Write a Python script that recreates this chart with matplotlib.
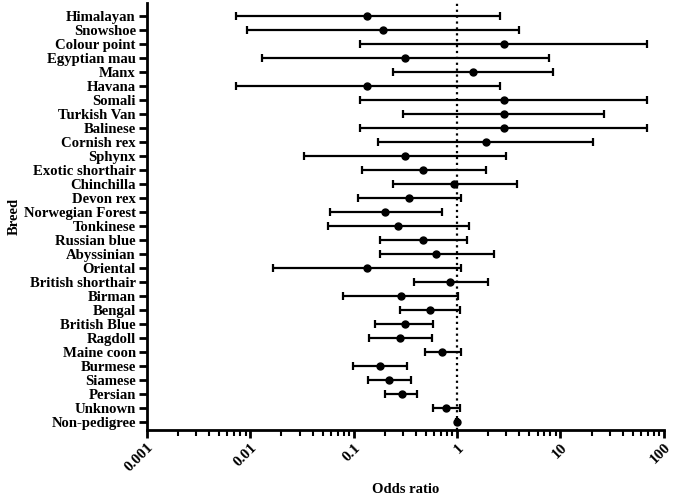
import numpy as np
import matplotlib.pyplot as plt
from matplotlib.ticker import LogLocator, FixedLocator, NullFormatter

plt.rcParams['font.family'] = ['Liberation Serif', 'DejaVu Serif']
plt.rcParams['font.weight'] = 'bold'

# breeds, top to bottom
breeds = ["Himalayan", "Snowshoe", "Colour point", "Egyptian mau", "Manx", "Havana",
          "Somali", "Turkish Van", "Balinese", "Cornish rex", "Sphynx", "Exotic shorthair",
          "Chinchilla", "Devon rex", "Norwegian Forest", "Tonkinese", "Russian blue",
          "Abyssinian", "Oriental", "British shorthair", "Birman", "Bengal", "British Blue",
          "Ragdoll", "Maine coon", "Burmese", "Siamese", "Persian", "Unknown", "Non-pedigree"]

odds = [0.135, 0.19, 2.83, 0.316, 1.42, 0.135,
        2.83, 2.83, 2.83, 1.9, 0.316, 0.47,
        0.94, 0.343, 0.20, 0.27, 0.47,
        0.62, 0.135, 0.86, 0.285, 0.55, 0.31,
        0.28, 0.72, 0.18, 0.22, 0.29, 0.78, 1.0]

ci_low = [0.0072, 0.0092, 0.114, 0.0129, 0.239, 0.0072,
          0.114, 0.30, 0.114, 0.17, 0.033, 0.119,
          0.239, 0.109, 0.059, 0.057, 0.18,
          0.18, 0.0164, 0.38, 0.078, 0.28, 0.16,
          0.139, 0.485, 0.099, 0.136, 0.20, 0.59, 0.97]

ci_high = [2.59, 3.95, 69, 7.7, 8.5, 2.59,
           69, 26.5, 69, 20.6, 3.0, 1.91,
           3.8, 1.08, 0.72, 1.30, 1.25,
           2.27, 1.09, 1.97, 1.03, 1.06, 0.59,
           0.57, 1.09, 0.326, 0.356, 0.41, 1.07, 1.03]

x_ticks = [0.001, 0.01, 0.1, 1, 10, 100]
x_labels = ["0.001", "0.01", "0.1", "1", "10", "100"]

odds = np.array(odds)
lo = odds - np.array(ci_low)
hi = np.array(ci_high) - odds
y = np.arange(len(breeds))[::-1]

fig = plt.figure(figsize=(6.74, 5.04), dpi=100)
ax = fig.add_axes([0.218, 0.147, 0.767, 0.847])

ax.axvline(1, color='black', linestyle=':', linewidth=1.6, zorder=1)
ax.errorbar(odds, y, xerr=[lo, hi], fmt='o', color='black', markersize=5,
            elinewidth=1.6, capsize=3, capthick=1.6, zorder=3)

ax.set_xscale('log')
ax.set_xlim(0.001, 100)
ax.set_ylim(-0.55, len(breeds) - 0.05)
ax.xaxis.set_major_locator(FixedLocator(x_ticks))
ax.set_xticklabels(x_labels, rotation=45, ha='right', va='top', rotation_mode='anchor',
                   fontsize=11, fontweight='bold')
ax.xaxis.set_minor_locator(LogLocator(base=10, subs=np.arange(2, 10)))
ax.xaxis.set_minor_formatter(NullFormatter())

ax.set_yticks(y)
ax.set_yticklabels(breeds, fontsize=10.6, fontweight='bold')

for side in ['top', 'right']:
    ax.spines[side].set_visible(False)
for side in ['left', 'bottom']:
    ax.spines[side].set_linewidth(2)
ax.tick_params(axis='both', which='major', direction='out', length=6, width=2, pad=2)
ax.tick_params(axis='x', which='minor', direction='out', length=4, width=1.5)

ax.set_xlabel("Odds ratio", fontsize=10.5, fontweight='bold', labelpad=6)
ax.set_ylabel("Breed", fontsize=10.5, fontweight='bold', labelpad=2)

fig.savefig("out.png", dpi=100)
